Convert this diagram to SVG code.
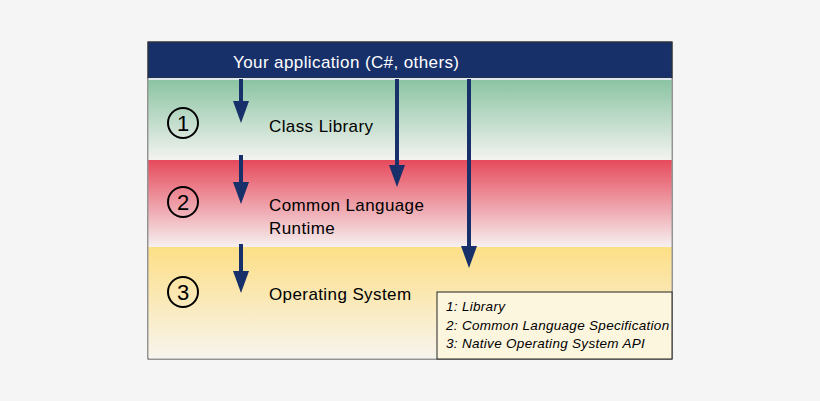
<svg xmlns="http://www.w3.org/2000/svg" width="820" height="401" viewBox="0 0 820 401">
<defs>
<linearGradient id="gGreen" x1="0" y1="0" x2="0" y2="1"><stop offset="0" stop-color="#8bc4a3"/><stop offset="1" stop-color="#f3f3f0"/></linearGradient>
<linearGradient id="gRed" x1="0" y1="0" x2="0" y2="1"><stop offset="0" stop-color="#e64a5c"/><stop offset="1" stop-color="#f6f0f0"/></linearGradient>
<linearGradient id="gYellow" x1="0" y1="0" x2="0" y2="1"><stop offset="0" stop-color="#fddf86"/><stop offset="1" stop-color="#f7f4ee"/></linearGradient>
<marker id="ah" markerWidth="5.5" markerHeight="4" refX="2" refY="2" orient="auto" markerUnits="strokeWidth" viewBox="0 0 5.5 4"><path d="M0,0 L5.5,2 L0,4 Z" fill="#17306a"/></marker>
<style>
.lbl{font-family:"Liberation Sans",Arial,sans-serif;font-size:17px;letter-spacing:0.4px;fill:#000}
.num{fill:none;stroke:#000;stroke-width:2}
.numt{font-family:"Liberation Sans",Arial,sans-serif;font-size:22px;fill:#000;text-anchor:middle}
.leg{font-family:"Liberation Sans",Arial,sans-serif;font-size:13.5px;letter-spacing:0.3px;font-style:italic;fill:#000}
.arr{stroke:#17306a;stroke-width:4;fill:none;marker-end:url(#ah)}
</style>
</defs>
<rect width="820" height="401" fill="#f5f5f5"/>
<g id="frame">
<rect x="148" y="42" width="524" height="317" fill="#fff" stroke="#333" stroke-width="1"/>
</g>
<g id="layer1">
<rect x="148.5" y="80" width="523" height="80" fill="url(#gGreen)"/>
<circle class="num" cx="183" cy="123" r="15"/>
<text class="numt" x="183" y="131">1</text>
<text class="lbl" x="269" y="132">Class Library</text>
</g>
<g id="layer2">
<rect x="148.5" y="160" width="523" height="87" fill="url(#gRed)"/>
<circle class="num" cx="183" cy="202" r="15"/>
<text class="numt" x="183" y="210">2</text>
<text class="lbl" x="269" y="211">Common Language</text>
<text class="lbl" x="269" y="234">Runtime</text>
</g>
<g id="layer3">
<rect x="148.5" y="247" width="523" height="111.5" fill="url(#gYellow)"/>
<circle class="num" cx="183" cy="292" r="15"/>
<text class="numt" x="183" y="300">3</text>
<text class="lbl" x="269" y="300">Operating System</text>
</g>
<g id="header">
<rect x="148" y="42" width="524" height="36" fill="#17306a" stroke="#333" stroke-width="1"/>
<rect x="148.5" y="78" width="523" height="2" fill="#dfe8ee"/>
<text class="lbl" x="233" y="68" style="fill:#fff">Your application (C#, others)</text>
</g>
<g id="legend">
<rect x="437" y="292" width="235" height="67" fill="#fdf6df" stroke="#222" stroke-width="1"/>
<text class="leg" x="446" y="311">1: Library</text>
<text class="leg" x="446" y="330">2: Common Language Specification</text>
<text class="leg" x="446" y="348">3: Native Operating System API</text>
</g>
<g id="connectors">
<line class="arr" x1="241" y1="79" x2="241" y2="109"/>
<line class="arr" x1="241" y1="155" x2="241" y2="190"/>
<line class="arr" x1="241" y1="244" x2="241" y2="279"/>
<line class="arr" x1="397" y1="79" x2="397" y2="173"/>
<line class="arr" x1="469" y1="79" x2="469" y2="254"/>
</g>
</svg>
